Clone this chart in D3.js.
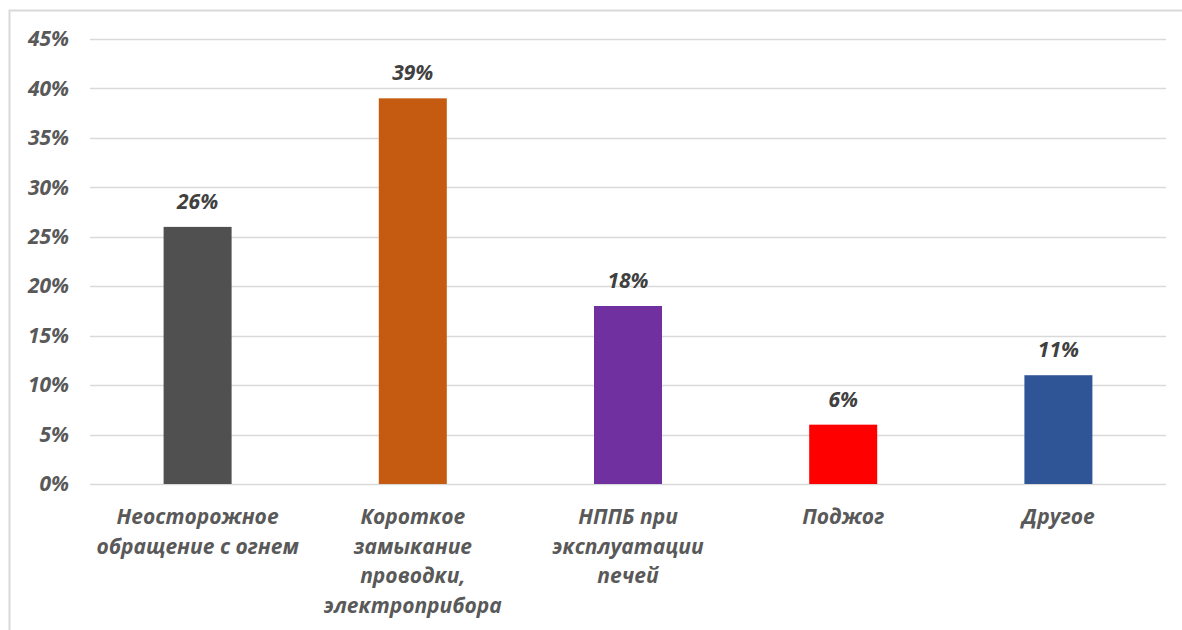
<!DOCTYPE html>
<html>
<head>
<meta charset="utf-8">
<script src="https://cdn.jsdelivr.net/npm/d3@7"></script>
<style>
  body { margin: 0; background: #fff; }
  svg text { font-family: "Open Sans", Lato, sans-serif; font-weight: bold; font-style: italic; }
</style>
</head>
<body>
<div class="chart-area"></div>
<script>
var categories = [
    ["Неосторожное", "обращение с огнем"],
    ["Короткое", "замыкание", "проводки,", "электроприбора"],
    ["НППБ при", "эксплуатации", "печей"],
    ["Поджог"],
    ["Другое"]
];
var values = [26, 39, 18, 6, 11];
var barColors = ["#505050", "#C55A11", "#7030A0", "#FF0000", "#2F5597"];
var yTicks = [0, 5, 10, 15, 20, 25, 30, 35, 40, 45];

var svg = d3.select(".chart-area")
    .append("svg")
    .attr("width", 1182)
    .attr("height", 630);

// chart frame
svg.append("path")
    .attr("d", "M 9.5 630 L 9.5 10.5 L 1182 10.5")
    .attr("fill", "none")
    .attr("stroke", "#d9d9d9")
    .attr("stroke-width", 2);

var x = d3.scaleBand()
    .domain(d3.range(values.length))
    .range([90, 1166])
    .paddingInner(0.684)
    .paddingOuter(0.342);

var y = d3.scaleLinear()
    .domain([0, 45])
    .range([484, 39]);

// grid
svg.append("g")
    .selectAll("line")
    .data(yTicks)
    .enter()
    .append("line")
    .attr("x1", 90)
    .attr("x2", 1166)
    .attr("y1", function(d) { return Math.round(y(d)) + 0.5; })
    .attr("y2", function(d) { return Math.round(y(d)) + 0.5; })
    .attr("stroke", "#d9d9d9")
    .attr("stroke-width", 1.3);

// y axis labels
var yAxis = d3.axisLeft(y)
    .tickValues(yTicks)
    .tickSize(0)
    .tickPadding(21)
    .tickFormat(function(d) { return d + "%"; });

var yg = svg.append("g")
    .attr("transform", "translate(90, 0)")
    .call(yAxis);
yg.select(".domain").remove();
yg.selectAll("text")
    .attr("fill", "#595959")
    .attr("font-size", 21);

// bars
svg.append("g")
    .selectAll("rect")
    .data(values)
    .enter()
    .append("rect")
    .attr("x", function(d, i) { return x(i); })
    .attr("y", function(d) { return y(d); })
    .attr("width", x.bandwidth())
    .attr("height", function(d) { return y(0) - y(d); })
    .attr("fill", function(d, i) { return barColors[i]; });

// value labels
svg.append("g")
    .selectAll("text")
    .data(values)
    .enter()
    .append("text")
    .attr("x", function(d, i) { return x(i) + x.bandwidth() / 2; })
    .attr("y", function(d) { return y(d) - 18; })
    .attr("text-anchor", "middle")
    .attr("fill", "#404040")
    .attr("font-size", 21)
    .text(function(d) { return d + "%"; });

// category labels
var catG = svg.append("g")
    .selectAll("text")
    .data(categories)
    .enter()
    .append("text")
    .attr("text-anchor", "middle")
    .attr("fill", "#595959")
    .attr("font-size", 21)
    .attr("transform", function(d, i) {
        return "translate(" + (x(i) + x.bandwidth() / 2) + ", 524)";
    });

catG.selectAll("tspan")
    .data(function(d) { return d; })
    .enter()
    .append("tspan")
    .attr("x", 0)
    .attr("y", function(d, j) { return j * 29.5; })
    .text(function(d) { return d; });
</script>
</body>
</html>
